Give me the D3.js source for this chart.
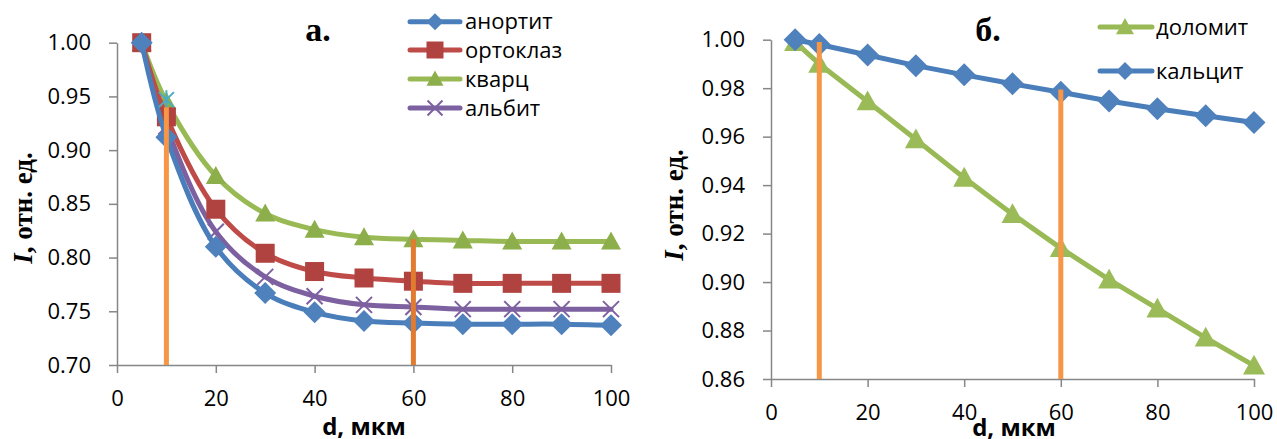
<!DOCTYPE html>
<html><head><meta charset="utf-8">
<script src="https://cdn.jsdelivr.net/npm/d3@7"></script>
<style>
body{margin:0;background:#fff;}
svg{display:block;}
</style></head>
<body>
<svg id="c" width="1277" height="439"></svg>
<script>
// ---- data (left panel "а.") ----
const dLeft = [5,10,20,30,40,50,60,70,80,90,100];
const anorthite = [1.000,0.912,0.810,0.767,0.749,0.741,0.739,0.738,0.738,0.738,0.737];
const orthoclase = [1.000,0.931,0.845,0.804,0.787,0.781,0.778,0.776,0.776,0.776,0.776];
const quartz = [1.000,0.945,0.876,0.841,0.826,0.819,0.817,0.816,0.815,0.815,0.815];
const albite = [1.000,0.922,0.824,0.782,0.764,0.756,0.754,0.752,0.752,0.752,0.752];
const starX = [10];
const starY = [0.947];
const leftNames = ["анортит","ортоклаз","кварц","альбит"];
const leftGuideX = [10,60];
const leftGuideTop = [0.940,0.817];
const leftYTicks = [0.70,0.75,0.80,0.85,0.90,0.95,1.00];
const xTicks = [0,20,40,60,80,100];

// ---- data (right panel "б.") ----
const dRight = [5,10,20,30,40,50,60,70,80,90,100];
const dolomite = [0.999,0.990,0.9745,0.9588,0.943,0.928,0.914,0.901,0.889,0.877,0.8655];
const calcite = [1.000,0.998,0.9937,0.9893,0.9855,0.9818,0.9783,0.9747,0.9715,0.9686,0.9658];
const rightNames = ["доломит","кальцит"];
const rightGuideX = [10,60];
const rightGuideTop = [0.999,0.9795];
const rightYTicks = [0.86,0.88,0.90,0.92,0.94,0.96,0.98,1.00];

const svg = d3.select("#c");
const SANS = "'Open Sans', 'Liberation Sans', sans-serif";
const SERIF = "'Liberation Serif', 'Times New Roman', serif";
const AX = "#868686";

function markerPath(type, size){
  const s = size/2;
  if(type==="diamond") return `M0,${-s}L${s},0L0,${s}L${-s},0Z`;
  if(type==="square") return `M${-s},${-s}H${s}V${s}H${-s}Z`;
  if(type==="triangle") return `M0,${-s}L${s},${s*0.8}L${-s},${s*0.8}Z`;
  return "";
}
function drawMarker(g, type, x, y, color, size){
  if(type==="x"){
    const s=size/2;
    g.append("path").attr("d",`M${x-s},${y-s}L${x+s},${y+s}M${x-s},${y+s}L${x+s},${y-s}`)
      .attr("stroke",color).attr("stroke-width",2).attr("fill","none");
  } else if(type==="star"){
    const s=size/2;
    g.append("path").attr("d",`M${x-s},${y-s}L${x+s},${y+s}M${x-s},${y+s}L${x+s},${y-s}M${x},${y-s-2}L${x},${y+s+2}`)
      .attr("stroke",color).attr("stroke-width",2).attr("fill","none");
  } else {
    g.append("path").attr("d",markerPath(type,size)).attr("transform",`translate(${x},${y})`)
      .attr("fill",color);
  }
}

function drawAxes(x, y, yTicks, fmt){
  const gy = svg.append("g").attr("transform",`translate(${x.range()[0]},0)`)
    .call(d3.axisLeft(y).tickValues(yTicks).tickFormat(d3.format(fmt)).tickSize(8).tickSizeOuter(0).tickPadding(18));
  const gx = svg.append("g").attr("transform",`translate(0,${y.range()[0]})`)
    .call(d3.axisBottom(x).tickValues(xTicks).tickFormat(d3.format("d")).tickSize(8).tickSizeOuter(0).tickPadding(17));
  [gy,gx].forEach(g=>{
    g.select(".domain").attr("stroke",AX).attr("stroke-width",1.5);
    g.selectAll(".tick line").attr("stroke",AX).attr("stroke-width",1.5);
    g.selectAll(".tick text").attr("fill","#000").style("font-family",SANS).style("font-size","22px");
  });
}

// ---------- LEFT ----------
const xL = d3.scaleLinear().domain([0,100]).range([117,611]);
const yL = d3.scaleLinear().domain([0.70,1.00]).range([365,42.7]);
drawAxes(xL, yL, leftYTicks, ".2f");

const leftSeries = [
  {name:leftNames[0], vals:anorthite, line:"#4A7EBB", mk:"#4F81BD", type:"diamond", size:22},
  {name:leftNames[1], vals:orthoclase, line:"#BE4B48", mk:"#B0433F", type:"square", size:19},
  {name:leftNames[2], vals:quartz, line:"#98B954", mk:"#8CAE4B", type:"triangle", size:20},
  {name:leftNames[3], vals:albite, line:"#7D60A0", mk:"#7D60A0", type:"x", size:16}
];
const lineL = d3.line().x((d,i)=>xL(dLeft[i])).y(d=>yL(d)).curve(d3.curveCatmullRom.alpha(0.5));
const gL = svg.append("g");
leftSeries.slice().reverse().forEach(s=>{
  gL.append("path").attr("d",lineL(s.vals)).attr("fill","none").attr("stroke",s.line)
    .attr("stroke-width",5).attr("stroke-linejoin","round").attr("stroke-linecap","round");
  s.vals.forEach((v,i)=>drawMarker(gL, s.type, xL(dLeft[i]), yL(v), s.mk, s.size));
});
starX.forEach((v,i)=>drawMarker(gL,"star",xL(v),yL(starY[i]),"#4BACC6",15));
const guideColorsL = ["#F79646","#E07B2F"];
leftGuideX.forEach((gx,i)=>{
  svg.append("line").attr("x1",xL(gx)).attr("x2",xL(gx)).attr("y1",yL(0.70)).attr("y2",yL(leftGuideTop[i]))
    .attr("stroke",guideColorsL[i]).attr("stroke-width",5);
});
leftSeries.forEach((s,i)=>{
  const ly = [21.7,50,79,108][i];
  const g = svg.append("g");
  g.append("line").attr("x1",410).attr("x2",460).attr("y1",ly).attr("y2",ly).attr("stroke",s.line)
    .attr("stroke-width",5).attr("stroke-linecap","round");
  drawMarker(g, s.type, 435, ly, s.mk, s.type==="x"?15:17);
  g.append("text").attr("x",465).attr("y",ly).attr("dy","0.35em").text(s.name)
    .style("font-family",SANS).style("font-size","22px").attr("fill","#000");
});
svg.append("text").attr("x",318).attr("y",41).attr("text-anchor","middle").text("а.")
  .style("font-family",SERIF).style("font-weight","bold").style("font-size","34px");
svg.append("text").attr("x",364).attr("y",435).attr("text-anchor","middle").text("d, мкм")
  .style("font-family",SANS).style("font-weight","bold").style("font-size","24px");
const ytL = svg.append("text").attr("transform","translate(32,208) rotate(-90)").attr("text-anchor","middle")
  .style("font-family",SERIF).style("font-weight","bold").style("font-size","27px");
ytL.append("tspan").style("font-style","italic").text("I");
ytL.append("tspan").text(", отн. ед.");

// ---------- RIGHT ----------
const xR = d3.scaleLinear().domain([0,100]).range([771,1254]);
const yR = d3.scaleLinear().domain([0.86,1.00]).range([379,39.7]);
drawAxes(xR, yR, rightYTicks, ".2f");

const rightSeries = [
  {name:rightNames[0], vals:dolomite, line:"#98B954", mk:"#9BBB59", type:"triangle", size:22},
  {name:rightNames[1], vals:calcite, line:"#4A7EBB", mk:"#4F81BD", type:"diamond", size:23}
];
const lineR = d3.line().x((d,i)=>xR(dRight[i])).y(d=>yR(d));
const gR = svg.append("g");
rightSeries.forEach(s=>{
  gR.append("path").attr("d",lineR(s.vals)).attr("fill","none").attr("stroke",s.line)
    .attr("stroke-width",5).attr("stroke-linejoin","round").attr("stroke-linecap","round");
  s.vals.forEach((v,i)=>drawMarker(gR, s.type, xR(dRight[i]), yR(v), s.mk, s.size));
});
rightGuideX.forEach((gx,i)=>{
  svg.append("line").attr("x1",xR(gx)).attr("x2",xR(gx)).attr("y1",yR(0.86)).attr("y2",yR(rightGuideTop[i]))
    .attr("stroke","#F79646").attr("stroke-width",5);
});
rightSeries.forEach((s,i)=>{
  const ly = [27,71][i];
  const g = svg.append("g");
  g.append("line").attr("x1",1100).attr("x2",1152).attr("y1",ly).attr("y2",ly).attr("stroke",s.line)
    .attr("stroke-width",5).attr("stroke-linecap","round");
  drawMarker(g, s.type, 1125, ly, s.mk, 18);
  g.append("text").attr("x",1156).attr("y",ly).attr("dy","0.35em").text(s.name)
    .style("font-family",SANS).style("font-size","22px").attr("fill","#000");
});
svg.append("text").attr("x",988).attr("y",41).attr("text-anchor","middle").text("б.")
  .style("font-family",SERIF).style("font-weight","bold").style("font-size","34px");
svg.append("text").attr("x",1014).attr("y",436).attr("text-anchor","middle").text("d, мкм")
  .style("font-family",SANS).style("font-weight","bold").style("font-size","24px");
const ytR = svg.append("text").attr("transform","translate(683,205) rotate(-90)").attr("text-anchor","middle")
  .style("font-family",SERIF).style("font-weight","bold").style("font-size","27px");
ytR.append("tspan").style("font-style","italic").text("I");
ytR.append("tspan").text(", отн. ед.");
</script>
</body></html>
